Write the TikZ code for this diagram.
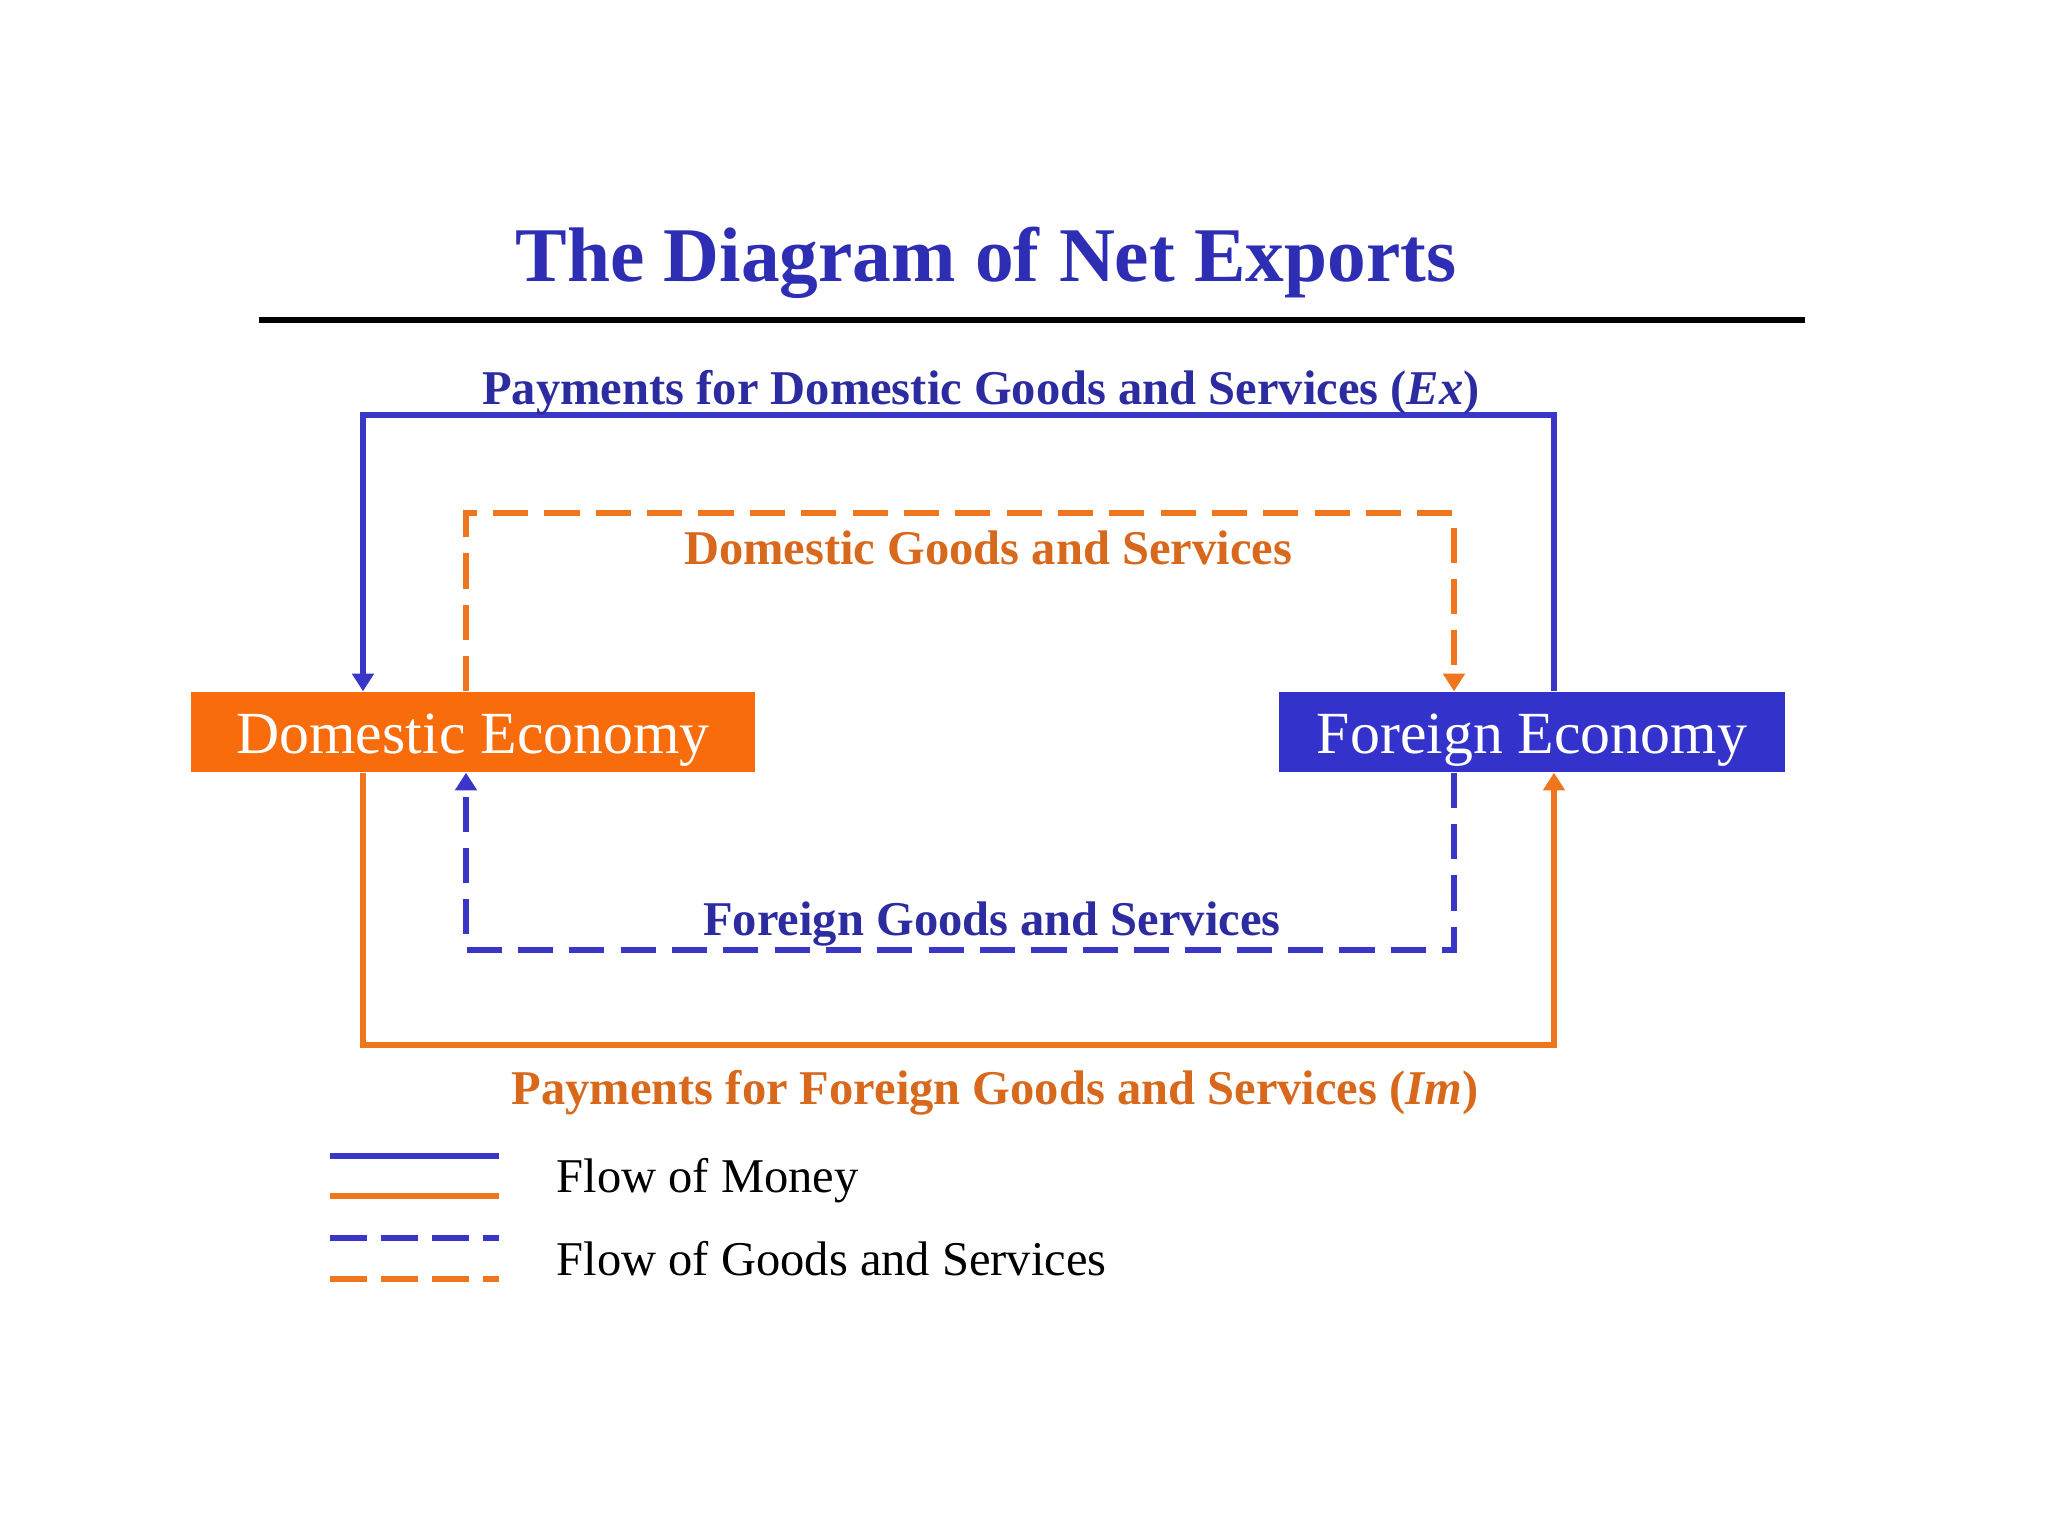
\documentclass[tikz,border=0pt]{standalone}
\usepackage{fontspec}
\setmainfont{Liberation Serif}
\usetikzlibrary{calc, positioning}
\usetikzlibrary{arrows.meta}

\definecolor{netblue}{HTML}{3A36C8}
\definecolor{netorange}{HTML}{F0761E}
\definecolor{boxorange}{HTML}{F86C0C}
\definecolor{boxblue}{HTML}{3333CC}
\definecolor{titleblue}{HTML}{2E2EB4}
\definecolor{labelblue}{HTML}{2C2CA0}
\definecolor{labelorange}{HTML}{D8681C}

\tikzset{
  money/.style={line width=1.5pt},
  goods/.style={line width=1.6pt, dash pattern=on 10pt off 4.6pt},
  flowtip/.style={-{Triangle[length=5pt, width=6pt]}},
  econbox/.style={minimum height=0.8cm, inner sep=0pt, text height=12pt, text depth=0pt, text=white, font=\fontsize{17}{20}\selectfont},
  flowlabel/.style={anchor=base, font=\fontsize{13.8}{16}\selectfont\bfseries},
  legendline/.style={line width=1.6pt},
  legendtext/.style={anchor=base west, inner sep=0pt, font=\fontsize{13.8}{16}\selectfont},
}

\begin{document}
\begin{tikzpicture}[x=0.01cm, y=-0.01cm]
\useasboundingbox (0,0) rectangle (2048,1536);

% title and rule
\node[anchor=base, text=titleblue, font=\fontsize{22}{26}\selectfont\bfseries] (title) at (986,281) {The Diagram of Net Exports};
\draw[line width=1.5pt] (259,320) -- (1805,320);

% the two economies
\node[econbox, fill=boxorange, minimum width=5.64cm] (dom) at (473,732) {Domestic Economy};
\node[econbox, fill=boxblue, minimum width=5.06cm] (for) at (1532,732) {Foreign Economy};

% corners of the flows
\coordinate (exL) at (363,415);
\coordinate (exR) at (1554,415);
\coordinate (dgL) at (466,513);
\coordinate (dgR) at (1454,513);
\coordinate (fgL) at (466,950);
\coordinate (fgR) at (1454,950);
\coordinate (imL) at (363,1045);
\coordinate (imR) at (1554,1045);

\draw[money, netblue, flowtip] (for.north -| exR) -- (exR) -- (exL) -- (exL |- dom.north);
\draw[goods, netorange, flowtip] (dom.north -| dgL) -- (dgL) -- (dgR) -- (dgR |- for.north);
\draw[goods, netblue, flowtip] (for.south -| fgR) -- (fgR) -- (fgL) -- (fgL |- dom.south);
\draw[money, netorange, flowtip] (dom.south -| imL) -- (imL) -- (imR) -- (imR |- for.south);

\node[flowlabel, text=labelblue] (exlabel) at (981,404) {Payments for Domestic Goods and Services (\textit{Ex})};
\node[flowlabel, text=labelorange] (dglabel) at (988,564) {Domestic Goods and Services};
\node[flowlabel, text=labelblue] (fglabel) at (992,935) {Foreign Goods and Services};
\node[flowlabel, text=labelorange] (imlabel) at (995,1104) {Payments for Foreign Goods and Services (\textit{Im})};

% legend
\draw[legendline, netblue] (330,1156) -- (499,1156);
\draw[legendline, netorange] (330,1196) -- (499,1196);
\draw[legendline, netblue, dash pattern=on 10.5pt off 4pt] (330,1238) -- (499,1238);
\draw[legendline, netorange, dash pattern=on 10.5pt off 4pt] (330,1279) -- (499,1279);
\node[legendtext] (moneykey) at (556,1192) {Flow of Money};
\node[legendtext] (goodskey) at (556,1275) {Flow of Goods and Services};
\end{tikzpicture}
\end{document}
